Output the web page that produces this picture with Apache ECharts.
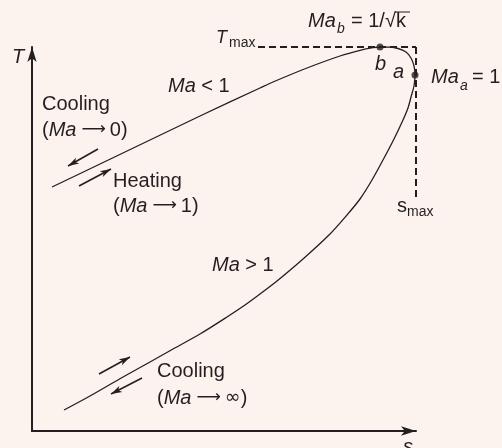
<!DOCTYPE html>
<html>
<head>
<meta charset="utf-8">
<script src="https://cdn.jsdelivr.net/npm/echarts@6/dist/echarts.min.js"></script>
<style>
html,body{margin:0;padding:0;background:#fcf3ee;}
#c{width:502px;height:448px;}
</style>
</head>
<body>
<div id="c"></div>
<script>
// Curve (entropy s, temperature T) in arbitrary units, from lower-left (Ma→∞) through a (Ma=1), b (Ma=1/√k) to upper-left (Ma→0)
const curveS = [32, 58, 91, 118, 141, 168, 195, 213, 228, 245, 271, 298, 315, 328, 340, 351, 362, 371, 376, 379, 382, 383, 382, 379, 374, 366, 356, 348, 341, 328, 308, 275, 241, 228, 168, 118, 68, 20];
const curveT = [21, 35, 54, 69, 82, 97, 114, 126, 137, 150, 172, 197, 216, 232, 251, 271, 292, 311, 323, 334, 345, 356, 365, 373, 379, 382.5, 384, 384, 383.3, 380.7, 375, 363, 349, 343, 315, 291, 267, 244];
// Special points
const pointNames = ['b', 'a'];
const pointS = [348, 383];
const pointT = [384, 356];
// s_max and T_max
const sMax = 384;
const tMax = 384;
const tMaxLineStartS = 226;
const sMaxLineEndT = 233;
// Direction arrows [s0, T0, s1, T1]
const arrowSegs = [
  [66, 282, 36, 265],
  [47, 245, 79, 262],
  [67, 57, 98, 74],
  [110, 53, 79, 37]
];
// Axis ranges
const sRange = [0, 384];
const tRange = [0, 384];

const INK = '#231f20';
const FONT = '"Liberation Sans", Arial, sans-serif';
const SYM = '"DejaVu Sans", sans-serif';

const chart = echarts.init(document.getElementById('c'));

function txt(x, y, t, size, italic) {
  return {
    type: 'text', x: x, y: y, silent: true,
    style: { text: t, font: (italic ? 'italic ' : '') + size + 'px ' + FONT, fill: INK, verticalAlign: 'middle', align: 'left' }
  };
}
function rich(x, y, parts) {
  return {
    type: 'text', x: x, y: y, silent: true,
    style: {
      text: parts, fill: INK, verticalAlign: 'middle', align: 'left',
      rich: {
        i: { fontFamily: FONT, fontStyle: 'italic', fontSize: 20, color: INK },
        r: { fontFamily: FONT, fontSize: 20, color: INK },
        s: { fontFamily: SYM, fontSize: 17, color: INK, padding: [0, 4, 0, 5] },
        inf: { fontFamily: SYM, fontSize: 19, color: INK }
      }
    }
  };
}

const curveData = curveS.map((s, i) => [s, curveT[i]]);
const ptData = pointS.map((s, i) => [s, pointT[i]]);

const option = {
  backgroundColor: '#fcf3ee',
  animation: false,
  grid: { left: 32, top: 47, right: 86, bottom: 17, containLabel: false },
  xAxis: {
    type: 'value', min: sRange[0], max: sRange[1],
    axisLine: { show: true, lineStyle: { color: INK, width: 2 }, symbol: ['none', 'arrow'], symbolSize: [7, 15] },
    axisTick: { show: false }, axisLabel: { show: false }, splitLine: { show: false }
  },
  yAxis: {
    type: 'value', min: tRange[0], max: tRange[1],
    axisLine: { show: true, lineStyle: { color: INK, width: 2 }, symbol: ['none', 'arrow'], symbolSize: [7, 15] },
    axisTick: { show: false }, axisLabel: { show: false }, splitLine: { show: false }
  },
  series: [
    {
      type: 'line', data: curveData, smooth: 0.3, showSymbol: false,
      lineStyle: { color: INK, width: 1.3 }, silent: true, z: 3
    },
    {
      type: 'line', data: [], silent: true,
      markLine: {
        silent: true, symbol: ['none', 'none'], label: { show: false },
        lineStyle: { color: INK, width: 2, type: [7, 4] },
        data: [
          [{ coord: [tMaxLineStartS, tMax] }, { coord: [sMax, tMax] }],
          [{ coord: [sMax, tMax] }, { coord: [sMax, sMaxLineEndT] }]
        ]
      }
    },
    {
      type: 'line', data: [], silent: true,
      markLine: {
        silent: true, symbol: ['none', 'arrow'], symbolSize: [5, 11], label: { show: false },
        lineStyle: { color: INK, width: 1.6, type: 'solid' },
        data: arrowSegs.map(a => [{ coord: [a[0], a[1]] }, { coord: [a[2], a[3]] }])
      }
    },
    {
      type: 'scatter', data: ptData, symbolSize: 7, itemStyle: { color: INK }, silent: true, z: 5
    }
  ],
  graphic: [
    txt(12, 57, 'T', 20, true),
    txt(216, 38, 'T', 18, true),
    txt(229, 43, 'max', 14, false),
    txt(308, 21, 'Ma', 20, true),
    txt(337, 29, 'b', 14, true),
    txt(351, 21, '= 1/√k', 20, false),
    { type: 'line', silent: true, shape: { x1: 395, y1: 12, x2: 410, y2: 12 }, style: { stroke: INK, lineWidth: 1 } },
    txt(375, 64, 'b', 20, true),
    txt(393, 72, 'a', 20, true),
    txt(431, 77, 'Ma', 20, true),
    txt(460, 86, 'a', 14, true),
    txt(472, 77, '= 1', 20, false),
    rich(168, 86, '{i|Ma}{r| < 1}'),
    txt(42, 104, 'Cooling', 20, false),
    rich(42, 130, '{r|(}{i|Ma}{s|⟶}{r|0)}'),
    txt(113, 181, 'Heating', 20, false),
    rich(113, 206, '{r|(}{i|Ma}{s|⟶}{r|1)}'),
    rich(212, 265, '{i|Ma}{r| > 1}'),
    txt(157, 371, 'Cooling', 20, false),
    rich(157, 398, '{r|(}{i|Ma}{s|⟶}{inf|∞}{r|)}'),
    txt(397, 206, 's', 20, false),
    txt(407, 212, 'max', 14, false),
    txt(403, 447, 's', 20, true)
  ]
};
chart.setOption(option);
</script>
</body>
</html>
